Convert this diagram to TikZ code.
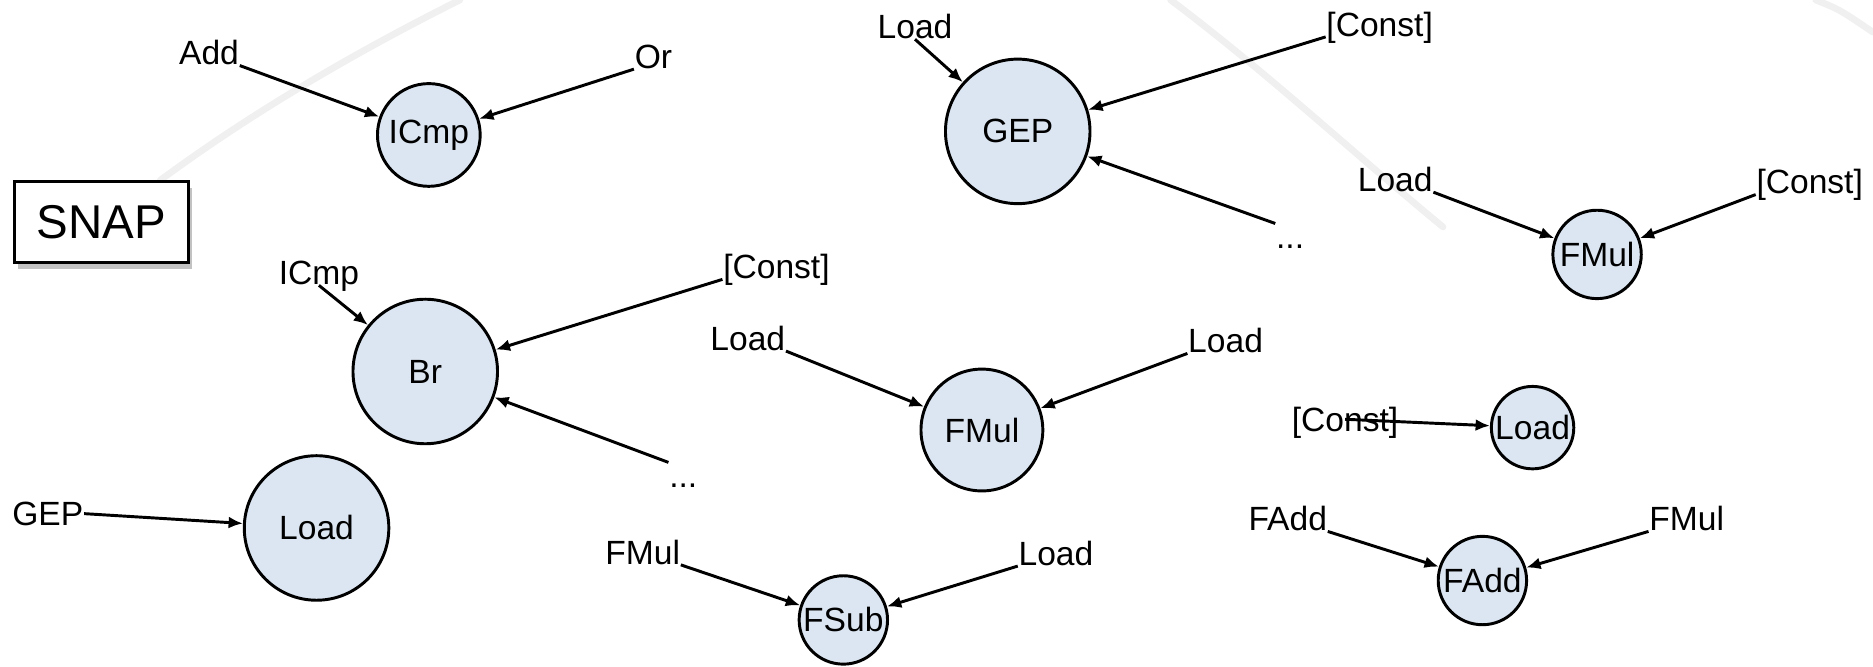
\documentclass[tikz,border=0pt]{standalone}
\usepackage{fontspec}
\setmainfont{Liberation Sans}
\usetikzlibrary{arrows.meta,shadows}
\definecolor{opfill}{HTML}{DCE6F2}

\begin{document}
\begin{tikzpicture}[
		op/.style={circle, draw, line width=0.7pt, fill=opfill, inner sep=0pt, font=\fontsize{8}{9}\selectfont},
		lbl/.style={inner sep=0pt, text height=5.8pt, text depth=0pt, font=\fontsize{8}{9}\selectfont},
		edge/.style={line width=0.7pt, -{Latex[length=1.2mm,width=1mm]}},
		bgarc/.style={black!6, line width=1.6pt, line cap=round}]
	\def\big{1.21}
	\def\small{0.74}

	\useasboundingbox (0,0) rectangle (15.68,-5.58);

	\draw[bgarc] (1.34,-1.51) .. controls (2.1,-0.95) and (2.95,-0.45) .. (3.85,0);
	\draw[bgarc] (9.8,0) .. controls (10.6,-0.6) and (11.35,-1.3) .. (12.08,-1.9);
	\draw[bgarc] (15.2,0) .. controls (15.4,-0.08) .. (15.68,-0.27);

	\node[draw, line width=0.8pt, fill=white, minimum width=1.46cm, minimum height=0.68cm,
		font=\fontsize{11.3}{13}\selectfont,
		drop shadow={shadow xshift=0.03cm, shadow yshift=-0.05cm, fill=black!40, opacity=0.6}] (snap) at (0.85,-1.86) {SNAP};

	\node[op, minimum size=0.86cm] (icmp) at (3.59,-1.13) {ICmp};
	\node[op, minimum size=\big cm] (gep) at (8.52,-1.10) {GEP};
	\node[op, minimum size=\small cm] (fmulA) at (13.37,-2.13) {FMul};
	\node[op, minimum size=\big cm] (br) at (3.56,-3.11) {Br};
	\node[op, minimum size=1.02cm] (fmulB) at (8.22,-3.60) {FMul};
	\node[op, minimum size=0.69cm] (loadA) at (12.83,-3.58) {Load};
	\node[op, minimum size=\big cm] (loadB) at (2.65,-4.42) {Load};
	\node[op, minimum size=\small cm] (fsub) at (7.06,-5.19) {FSub};
	\node[op, minimum size=\small cm] (fadd) at (12.41,-4.86) {FAdd};

	\node[lbl] (add) at (1.75,-0.44) {Add};
	\node[lbl] (or) at (5.47,-0.47) {Or};
	\node[lbl] (gload) at (7.66,-0.22) {Load};
	\node[lbl] (gconst) at (11.55,-0.20) {[Const]};
	\node[lbl] (gdots) at (10.80,-1.98) {...};
	\node[lbl] (fload) at (11.68,-1.50) {Load};
	\node[lbl] (fconst) at (15.15,-1.52) {[Const]};
	\node[lbl] (bicmp) at (2.67,-2.28) {ICmp};
	\node[lbl] (bconst) at (6.50,-2.23) {[Const]};
	\node[lbl] (bdots) at (5.72,-3.98) {...};
	\node[lbl] (mloadA) at (6.26,-2.83) {Load};
	\node[lbl] (mloadB) at (10.26,-2.85) {Load};
	\node[lbl] (rconst) at (11.26,-3.51) {[Const]};
	\node[lbl] (lgep) at (0.40,-4.30) {GEP};
	\node[lbl] (sfmul) at (5.38,-4.62) {FMul};
	\node[lbl] (sload) at (8.84,-4.63) {Load};
	\node[lbl] (afadd) at (10.78,-4.34) {FAdd};
	\node[lbl] (afmul) at (14.12,-4.34) {FMul};

	\draw[edge] (add.south east) -- (icmp);
	\draw[edge] (or.south west) -- (icmp);
	\draw[edge] (gload.south) -- (gep);
	\draw[edge] (gconst.south west) -- (gep);
	\draw[edge] (gdots.north west) -- (gep);
	\draw[edge] (fload.south east) -- (fmulA);
	\draw[edge] (fconst.south west) -- (fmulA);
	\draw[edge] (bicmp.south) -- (br);
	\draw[edge] (bconst.south west) -- (br);
	\draw[edge] (bdots.north west) -- (br);
	\draw[edge] (mloadA.south east) -- (fmulB);
	\draw[edge] (mloadB.south west) -- (fmulB);
	\draw[edge] (rconst.center) -- (loadA);
	\draw[edge] (lgep.east) -- (loadB);
	\draw[edge] (sfmul.south east) -- (fsub);
	\draw[edge] (sload.south west) -- (fsub);
	\draw[edge] (afadd.south east) -- (fadd);
	\draw[edge] (afmul.south west) -- (fadd);
\end{tikzpicture}
\end{document}
